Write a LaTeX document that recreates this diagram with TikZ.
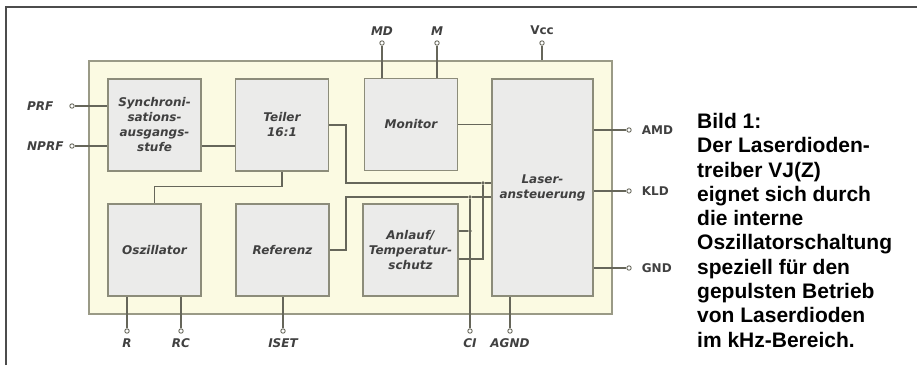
\documentclass[tikz,border=0pt]{standalone}
\usepackage{fontspec}
\setmainfont{Liberation Sans}
\newfontfamily\diafont{DejaVu Sans}
\usetikzlibrary{positioning,calc}
\definecolor{cChip}{HTML}{FBFAE2}
\definecolor{cChipLine}{HTML}{9A9A86}
\definecolor{cBlock}{HTML}{EBEBEA}
\definecolor{cBlockLine}{HTML}{8C8C7A}
\definecolor{cWire}{HTML}{66665A}
\definecolor{cLabel}{HTML}{404040}
\tikzset{
  chip/.style={draw=cChipLine,fill=cChip,line width=1.2pt,minimum width=523pt,minimum height=253pt},
  block/.style={draw=cBlockLine,fill=cBlock,line width=1.6pt,align=center,text=cLabel,
    font=\diafont\bfseries\itshape\fontsize{12}{15}\selectfont,minimum width=93pt,minimum height=92pt,inner sep=1pt},
  pin/.style={circle,draw=cWire,fill=white,line width=0.9pt,minimum size=4.4pt,inner sep=0pt},
  pinlbl/.style={font=\diafont\bfseries\itshape\fontsize{12}{14}\selectfont,text=cLabel,inner sep=1pt,label distance=4pt},
  pinup/.style={font=\diafont\bfseries\fontsize{12}{14}\selectfont,text=cLabel,inner sep=1pt,label distance=9pt},
  wire/.style={draw=cWire,line width=1.1pt},
  dot/.style={circle,fill=cWire,minimum size=3.6pt,inner sep=0pt},
  caption/.style={anchor=north west,inner sep=0pt,align=left,font=\bfseries\fontsize{21}{24.3}\selectfont}}
\begin{document}
\begin{tikzpicture}[x=1pt,y=-1pt]
\useasboundingbox (0,0) rectangle (917,365);
\draw[line width=1.2pt,draw=black!70] (6,365) |- (917,7);
% chip and function blocks
\node[chip] (chip) at (350.5,187.5) {};
\node[block] (sync) at (154.5,125) {Synchroni-\\sations-\\ausgangs-\\stufe};
\node[block] (teiler) at (282,125) {Teiler\\16:1};
\node[block] (monitor) at (411,124.5) {Monitor};
\node[block,minimum width=101pt,minimum height=217pt] (laser) at (542.5,187.5) {Laser-\\ansteuerung};
\node[block] (osz) at (154.5,250) {Oszillator};
\node[block] (ref) at (282.5,250) {Referenz};
\node[block,minimum width=95pt] (anlauf) at (410.5,250) {Anlauf/\\Temperatur-\\schutz};
% pins
\node[pin] (prf) at (72,106) {};
\node[pin] (nprf) at (72,146) {};
\node[pinlbl,anchor=west] (prflbl) at (26,106) {PRF};
\node[pinlbl,anchor=west] (nprflbl) at (26,146) {NPRF};
\node[pin,label={[pinlbl]above:MD}] (md) at (382,43) {};
\node[pin,label={[pinlbl]above:M}] (mi) at (437,43) {};
\node[pin,label={[pinup,label distance=4pt]above:Vcc}] (vcc) at (542,43) {};
\node[pin,label={[pinup]right:AMD}] (amd) at (629,130) {};
\node[pin,label={[pinup]right:KLD}] (kld) at (629,191) {};
\node[pin,label={[pinup]right:GND}] (gnd) at (629,268) {};
\node[pin,label={[pinlbl]below:R}] (rpin) at (127,331) {};
\node[pin,label={[pinlbl]below:RC}] (rc) at (181,331) {};
\node[pin,label={[pinlbl]below:ISET}] (iset) at (283,331) {};
\node[pin,label={[pinlbl]below:CI}] (ci) at (470,331) {};
\node[pin,label={[pinlbl]below:AGND}] (agnd) at (510,331) {};
% junctions and bends
\node[dot] (j1) at (483,183) {};
\node[dot] (j2) at (470,197) {};
\node[dot] (j3) at (470,231) {};
\coordinate (tk) at (346,183);
\coordinate (rk) at (346,197);
% wiring
\draw[wire] (prf) -- (prf -| sync.west);
\draw[wire] (nprf) -- (nprf -| sync.west);
\draw[wire] (sync.east |- nprf) -- (teiler.west |- nprf);
\draw[wire] (md) -- (md |- monitor.north);
\draw[wire] (mi) -- (mi |- monitor.north);
\draw[wire] (vcc) -- (vcc |- chip.north);
\draw[wire] (monitor.east) -- (monitor.east -| laser.west);
\draw[wire] (teiler.east) -| (tk) -- (j1) -- (j1 -| laser.west);
\draw[wire] (teiler.south) -- ++(0,15) -| (osz.north);
\draw[wire] (ref.east) -| (rk) -- (j2) -- (j2 -| laser.west);
\draw[wire] ([yshift=19pt]anlauf.east) -- (j3);
\draw[wire] ([yshift=-9pt]anlauf.east) -| (j1);
\draw[wire] (ci) -- (j2);
\draw[wire] (agnd) -- (agnd |- laser.south);
\draw[wire] (laser.east |- amd) -- (amd);
\draw[wire] (laser.east |- kld) -- (kld);
\draw[wire] (laser.east |- gnd) -- (gnd);
\draw[wire] (rpin) -- (rpin |- osz.south);
\draw[wire] (rc) -- (rc |- osz.south);
\draw[wire] (iset) -- (iset |- ref.south);
% caption
\node[caption] (bild) at (697,113) {Bild 1:\\Der Laserdioden-\\treiber VJ(Z)\\eignet sich durch\\die interne\\Oszillatorschaltung\\speziell für den\\gepulsten Betrieb\\von Laserdioden\\im kHz-Bereich.};
\end{tikzpicture}
\end{document}
